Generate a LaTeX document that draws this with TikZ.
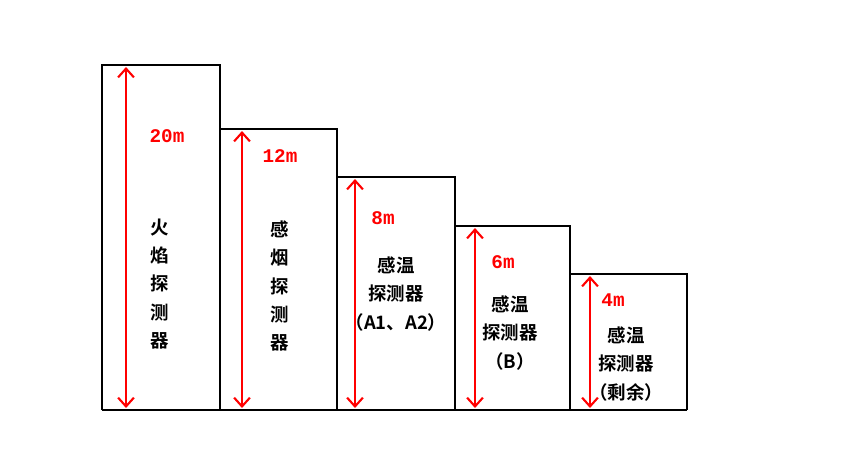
\documentclass[tikz,border=0pt]{standalone}
\usepackage{fontspec}
\newfontfamily\cjk{Noto Sans CJK SC}[BoldFont=* Bold]
\newfontfamily\mono{Liberation Mono}
\usetikzlibrary{arrows.meta}
\begin{document}
\begin{tikzpicture}[x=0.02cm,y=-0.02cm,
  bar/.style={draw=black,line width=1.6pt},
  dim/.style={draw=red,line width=1.2pt,{Straight Barb[length=5pt,width=9pt]}-{Straight Barb[length=5pt,width=9pt]}},
  hl/.style={text=red,font=\mono\bfseries\fontsize{11}{13}\selectfont},
  lbl/.style={font=\cjk\bfseries\fontsize{10.5}{16}\selectfont,align=center}]
\useasboundingbox (0,0) rectangle (852,454);
\draw[bar] (102,410) -- (102,65) -- (220,65) -- (220,410);
\draw[bar] (220,129) -- (337,129) -- (337,410);
\draw[bar] (337,177) -- (455,177) -- (455,410);
\draw[bar] (455,226) -- (570,226) -- (570,410);
\draw[bar] (570,274) -- (687,274) -- (687,410);
\draw[bar] (102,410) -- (687,410);
\coordinate (t1) at (126,67); \coordinate (b1) at (126,408);
\coordinate (t2) at (242,131); \coordinate (b2) at (242,408);
\coordinate (t3) at (355,179); \coordinate (b3) at (355,408);
\coordinate (t4) at (475,228); \coordinate (b4) at (475,408);
\coordinate (t5) at (590,276); \coordinate (b5) at (590,408);
\foreach \i in {1,...,5} \draw[dim] (t\i) -- (b\i);
\node[hl] (h1) at (167,136) {20m};
\node[hl] (h2) at (280,156) {12m};
\node[hl] (h3) at (383,218) {8m};
\node[hl] (h4) at (503,262) {6m};
\node[hl] (h5) at (613,300) {4m};
\node[lbl] (l1) at (160,284) {火\\焰\\探\\测\\器};
\node[lbl] (l2) at (280,286) {感\\烟\\探\\测\\器};
\node[lbl] (l3) at (396,294) {感温\\探测器\\（A1、A2）};
\node[lbl] (l4) at (510,333) {感温\\探测器\\（B）};
\node[lbl] (l5) at (626,364) {感温\\探测器\\（剩余）};
\end{tikzpicture}
\end{document}
